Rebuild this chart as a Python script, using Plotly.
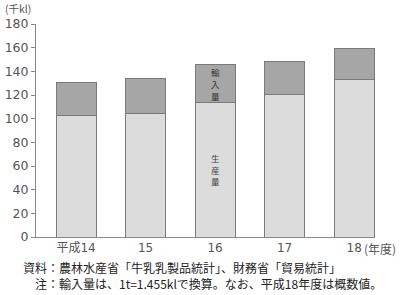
import plotly.graph_objects as go

categories = ["平成14", "15", "16", "17", "18"]
production = [102.5, 104.2, 113.5, 120.5, 132.7]
imports = [28.0, 29.5, 32.0, 27.7, 27.0]
y_ticks = [0, 20, 40, 60, 80, 100, 120, 140, 160, 180]

FONT = "Noto Sans CJK JP"
NUMFONT = "DejaVu Sans, Noto Sans CJK JP"
xs = list(range(len(categories)))

fig = go.Figure()
fig.add_trace(go.Bar(x=xs, y=production, width=0.575, name="生産量",
                     marker=dict(color="#dcdcdc", line=dict(color="#7a7a7a", width=1))))
fig.add_trace(go.Bar(x=xs, y=imports, width=0.575, name="輸入量",
                     marker=dict(color="#a6a6a6", line=dict(color="#7a7a7a", width=1))))

fig.update_layout(
    barmode="stack",
    width=400, height=295,
    margin=dict(l=36, r=25, t=24, b=58),
    plot_bgcolor="white", paper_bgcolor="white",
    showlegend=False,
    font=dict(family=FONT, color="#444444", size=12),
    xaxis=dict(range=[-0.576, 4.3], tickmode="array", tickvals=xs, ticktext=categories,
               showline=True, linecolor="#888888", linewidth=1, ticks="",
               showgrid=False, zeroline=False, automargin=False,
               tickfont=dict(family=NUMFONT, size=12, color="#555555")),
    yaxis=dict(range=[0, 180], tickmode="array", tickvals=y_ticks,
               showline=True, linecolor="#888888", linewidth=1, ticks="outside",
               ticklen=4, tickcolor="#888888", showgrid=False, zeroline=False,
               automargin=False,
               tickfont=dict(family=NUMFONT, size=12.5, color="#555555")),
)

fig.add_annotation(text="(千kl)", xref="paper", yref="paper", x=-0.094, y=1.073,
                   xanchor="left", yanchor="middle", showarrow=False, borderpad=0,
                   font=dict(size=10.5, color="#555555"))
fig.add_annotation(text="(年度)", x=4, y=0, xref="x", yref="paper",
                   xanchor="left", yanchor="top", xshift=8, yshift=-1, showarrow=False,
                   font=dict(size=12, color="#555555"))

# vertical labels, one character per annotation
for i, ch in enumerate("輸入量"):
    fig.add_annotation(text=ch, x=2, y=production[2] + imports[2], xref="x", yref="y",
                       yanchor="middle", yshift=-7.3 - 11.7 * i, showarrow=False,
                       borderpad=0, font=dict(size=8.5, color="#333333"))
for i, ch in enumerate("生産量"):
    fig.add_annotation(text=ch, x=2, y=60, xref="x", yref="y",
                       yanchor="middle", yshift=8 - 11.7 * i, showarrow=False,
                       borderpad=0, font=dict(size=8.5, color="#444444"))

fig.add_annotation(
    text="資料：農林水産省「牛乳乳製品統計」、財務省「貿易統計」<br>"
         "\u3000注：輸入量は、1t=1.455klで換算。なお、平成18年度は概数値。",
    xref="paper", yref="paper", x=-0.041, y=-0.182, xanchor="left",
    yanchor="middle", align="left", showarrow=False, borderpad=0,
    font=dict(size=12, color="#222222"))

fig.write_html("out.html")
